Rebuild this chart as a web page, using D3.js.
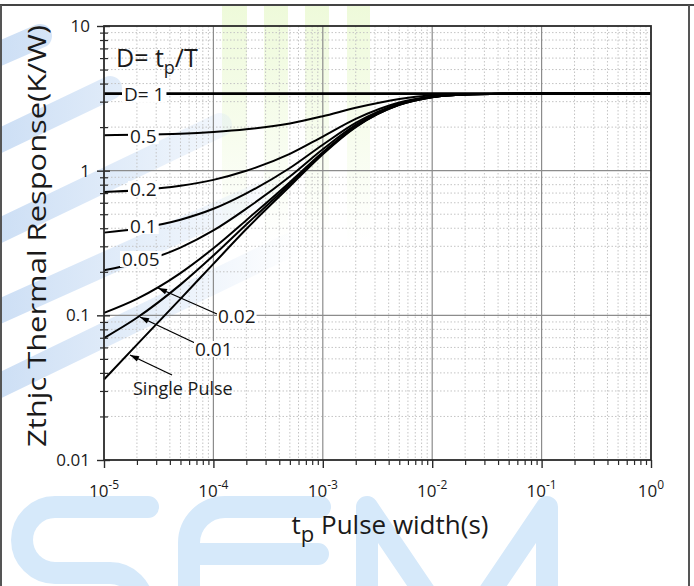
<!DOCTYPE html>
<html>
<head>
<meta charset="utf-8">
<script src="https://cdn.jsdelivr.net/npm/d3@7"></script>
<style>
  html, body { margin: 0; padding: 0; background: #fff; }
  svg { display: block; }
  text { font-family: "Open Sans", "Noto Sans", sans-serif; fill: #1a1a1a; }
</style>
</head>
<body>
<svg id="chart" width="694" height="586"></svg>
<script>
// ---------------- data ----------------
const pulseWidths = [1e-5, 2e-5, 5e-5, 1e-4, 2e-4, 5e-4, 1e-3, 2e-3, 5e-3, 1e-2, 2e-2, 5e-2, 1e-1, 1];
const dutyLabels = ["D= 1", "0.5", "0.2", "0.1", "0.05", "0.02", "0.01", "Single Pulse"];
const zD1     = [3.41, 3.41, 3.41, 3.41, 3.41, 3.41, 3.41, 3.41, 3.41, 3.41, 3.41, 3.41, 3.41, 3.41];
const zD05    = [1.76, 1.77, 1.80, 1.85, 1.93, 2.12, 2.38, 2.72, 3.13, 3.32, 3.385, 3.405, 3.41, 3.41];
const zD02    = [0.711, 0.732, 0.786, 0.864, 0.998, 1.306, 1.722, 2.282, 2.962, 3.258, 3.37, 3.402, 3.41, 3.41];
const zD01    = [0.373, 0.397, 0.458, 0.545, 0.697, 1.043, 1.511, 2.141, 2.906, 3.239, 3.365, 3.401, 3.41, 3.41];
const zD005   = [0.205, 0.230, 0.294, 0.386, 0.546, 0.911, 1.406, 2.071, 2.878, 3.230, 3.363, 3.40, 3.41, 3.41];
const zD002   = [0.104, 0.130, 0.196, 0.291, 0.455, 0.833, 1.342, 2.028, 2.861, 3.224, 3.361, 3.40, 3.41, 3.41];
const zD001   = [0.0697, 0.0962, 0.163, 0.259, 0.425, 0.806, 1.321, 2.014, 2.856, 3.222, 3.360, 3.40, 3.41, 3.41];
const zSingle = [0.036, 0.0627, 0.130, 0.227, 0.395, 0.78, 1.30, 2.00, 2.85, 3.22, 3.36, 3.40, 3.41, 3.41];
const xTickExps = ["-5", "-4", "-3", "-2", "-1", "0"];
const xTickValues = [1e-5, 1e-4, 1e-3, 1e-2, 1e-1, 1];
const yTickValues = [0.01, 0.1, 1, 10];
const yTickLabels = ["0.01", "0.1", "1", "10"];

// ---------------- setup ----------------
const svg = d3.select("#chart");
const L = 104, R = 651, T = 26, B = 460;
const x = d3.scaleLog().domain([1e-5, 1]).range([L, R]);
const y = d3.scaleLog().domain([0.01, 10]).range([B, T]);

// ---------------- watermark ----------------
const defs = svg.append("defs");
const gg = defs.append("linearGradient").attr("id", "gfade").attr("x1", 0).attr("y1", 0).attr("x2", 0).attr("y2", 1);
gg.append("stop").attr("offset", "0%").attr("stop-color", "rgb(238,250,218)").attr("stop-opacity", 1);
gg.append("stop").attr("offset", "100%").attr("stop-color", "rgb(238,250,218)").attr("stop-opacity", 0);
const bg = defs.append("linearGradient").attr("id", "bfade").attr("gradientUnits", "userSpaceOnUse")
  .attr("x1", 0).attr("y1", 0).attr("x2", 300).attr("y2", 0);
bg.append("stop").attr("offset", "0%").attr("stop-color", "rgb(205,223,245)").attr("stop-opacity", 1);
bg.append("stop").attr("offset", "100%").attr("stop-color", "rgb(205,223,245)").attr("stop-opacity", 0);

const wm = svg.append("g").attr("class", "watermark");
[[222, 247], [264, 288], [305, 329], [347, 370]].forEach(([a, b]) => {
  wm.append("rect").attr("x", a).attr("y", 5).attr("width", b - a).attr("height", 240).attr("fill", "url(#gfade)");
});
// diagonal light-blue bands at left
const bands = [[-20, 62, 40, 36], [-20, 150, 110, 88], [-20, 240, 220, 125], [-20, 320, 270, 190], [-20, 395, 290, 245]];
bands.forEach(([x1, y1, x2, y2]) => {
  wm.append("line").attr("x1", x1).attr("y1", y1).attr("x2", x2).attr("y2", y2)
    .attr("stroke", "url(#bfade)").attr("stroke-width", 24).attr("stroke-linecap", "round");
});
// SEMI letters at bottom
const letterColor = "rgb(214,233,250)";
const letters = [
  "M 148 507 H 55 A 33 33 0 0 0 55 573 H 110 A 33 33 0 0 1 110 639",
  "M 320 507 H 225 A 36 36 0 0 0 189 543 V 640 M 189 554 H 318",
  "M 367 640 V 507 L 457 640 L 547 507 V 640"
];
letters.forEach(d => {
  wm.append("path").attr("d", d).attr("fill", "none").attr("stroke", letterColor)
    .attr("stroke-width", 22).attr("stroke-linecap", "round").attr("stroke-linejoin", "round");
});

// page frame
svg.append("line").attr("x1", 0).attr("x2", 694).attr("y1", 5).attr("y2", 5).attr("stroke", "#444").attr("stroke-width", 2);
svg.append("line").attr("x1", 1).attr("x2", 1).attr("y1", 5).attr("y2", 586).attr("stroke", "#555").attr("stroke-width", 2);
svg.append("line").attr("x1", 689).attr("x2", 689).attr("y1", 5).attr("y2", 586).attr("stroke", "#555").attr("stroke-width", 2);

// ---------------- grid ----------------
const grid = svg.append("g");
const minorX = [], minorY = [];
for (let e = -5; e < 0; e++) for (let m = 2; m <= 9; m++) minorX.push(m * Math.pow(10, e));
for (let e = -2; e < 1; e++) for (let m = 2; m <= 9; m++) minorY.push(m * Math.pow(10, e));
grid.selectAll(".mx").data(minorX).enter().append("line")
  .attr("x1", d => x(d)).attr("x2", d => x(d)).attr("y1", T).attr("y2", B)
  .attr("stroke", "#c4c4c4").attr("stroke-width", 1).attr("stroke-dasharray", "1.5,2");
grid.selectAll(".my").data(minorY).enter().append("line")
  .attr("x1", L).attr("x2", R).attr("y1", d => y(d)).attr("y2", d => y(d))
  .attr("stroke", "#c4c4c4").attr("stroke-width", 1).attr("stroke-dasharray", "1.5,2");
grid.selectAll(".Mx").data(xTickValues.slice(1, -1)).enter().append("line")
  .attr("x1", d => x(d)).attr("x2", d => x(d)).attr("y1", T).attr("y2", B)
  .attr("stroke", "#8c8c8c").attr("stroke-width", 1.2);
grid.selectAll(".My").data(yTickValues.slice(1, -1)).enter().append("line")
  .attr("x1", L).attr("x2", R).attr("y1", d => y(d)).attr("y2", d => y(d))
  .attr("stroke", "#8c8c8c").attr("stroke-width", 1.2);

// ---------------- curves ----------------
const series = [zD1, zD05, zD02, zD01, zD005, zD002, zD001, zSingle];
const line = d3.line().x(d => x(d[0])).y(d => y(d[1])).curve(d3.curveMonotoneX);
const curves = svg.append("g");
series.forEach((s, i) => {
  curves.append("path").datum(pulseWidths.map((p, j) => [p, s[j]]))
    .attr("d", line).attr("fill", "none").attr("stroke", "#000")
    .attr("stroke-width", i === 0 ? 2.6 : 2).attr("stroke-linejoin", "round");
});

// ---------------- frame & axes ----------------
svg.append("rect").attr("x", L).attr("y", T).attr("width", R - L).attr("height", B - T)
  .attr("fill", "none").attr("stroke", "#2a2a2a").attr("stroke-width", 1.8);

const axB = svg.append("g").attr("transform", `translate(0,${B})`)
  .call(d3.axisBottom(x).tickValues(xTickValues).tickSize(8).tickFormat(""));
axB.select(".domain").remove();
axB.selectAll(".tick line").attr("stroke", "#2a2a2a").attr("stroke-width", 1.4);
svg.append("g").attr("transform", `translate(0,${B})`)
  .call(d3.axisBottom(x).tickValues(minorX).tickSize(5).tickFormat(""))
  .call(g => g.select(".domain").remove())
  .selectAll(".tick line").attr("stroke", "#2a2a2a").attr("stroke-width", 1.2);

const axL = svg.append("g").attr("transform", `translate(${L + 6},0)`)
  .call(d3.axisLeft(y).tickValues(yTickValues).tickSize(13).tickFormat(""));
axL.select(".domain").remove();
axL.selectAll(".tick line").attr("stroke", "#2a2a2a").attr("stroke-width", 1.4);
svg.append("g").attr("transform", `translate(${L + 4},0)`)
  .call(d3.axisLeft(y).tickValues(minorY).tickSize(8).tickFormat(""))
  .call(g => g.select(".domain").remove())
  .selectAll(".tick line").attr("stroke", "#2a2a2a").attr("stroke-width", 1.2);

// tick labels
svg.selectAll(".ylab").data(yTickValues).enter().append("text")
  .attr("x", 90).attr("y", d => y(d)).attr("dy", "0.35em").attr("text-anchor", "end")
  .attr("font-size", 17).text((d, i) => yTickLabels[i]);
const xl = svg.selectAll(".xlab").data(xTickValues).enter().append("text")
  .attr("x", d => x(d)).attr("y", 497).attr("text-anchor", "middle").attr("font-size", 17);
xl.append("tspan").text("10");
xl.append("tspan").attr("dy", -8).attr("font-size", 12).text((d, i) => xTickExps[i]);

// axis titles
const xt = svg.append("text").attr("x", 390).attr("y", 534).attr("text-anchor", "middle").attr("font-size", 26);
xt.append("tspan").text("t");
xt.append("tspan").attr("dy", 8).attr("font-size", 22).text("p");
xt.append("tspan").attr("dy", -8).text(" Pulse width(s)");

svg.append("text").attr("transform", "translate(46,236) rotate(-90)").attr("text-anchor", "middle")
  .attr("font-size", 26).attr("textLength", 422).attr("lengthAdjust", "spacingAndGlyphs")
  .text("Zthjc Thermal Response(K/W)");

// ---------------- annotations ----------------
const dt = svg.append("text").attr("x", 116).attr("y", 67).attr("font-size", 25);
dt.append("tspan").text("D= t");
dt.append("tspan").attr("dy", 7).attr("font-size", 18).text("p");
dt.append("tspan").attr("dy", -7).text("/T");

function boxedText(t, tx, ty, size, pad) {
  const r = svg.append("rect").attr("fill", "#fff");
  const tt = svg.append("text").attr("x", tx).attr("y", ty).attr("dy", "0.35em").attr("font-size", size).text(t);
  if (pad !== null) {
    const b = tt.node().getBBox();
    r.attr("x", b.x - pad).attr("y", ty - size * 0.42).attr("width", b.width + 2 * pad).attr("height", size * 0.84);
  } else r.remove();
}
const boxed = [
  [dutyLabels[0], 124, 94],
  [dutyLabels[1], 130, 136],
  [dutyLabels[2], 130, 189],
  [dutyLabels[3], 130, 226],
  [dutyLabels[4], 122, 259]
];
boxed.forEach(([t, bx, by]) => boxedText(t, bx, by, 19, 2));

// arrows
const arrows = [
  [dutyLabels[5], [217, 314], [158, 288], [218, 316]],
  [dutyLabels[6], [195, 343], [140, 317], [195, 349]],
  [dutyLabels[7], [172, 375], [130, 355], [133, 389]]
];
arrows.forEach(([t, from, to, lp]) => {
  svg.append("line").attr("x1", from[0]).attr("y1", from[1]).attr("x2", to[0]).attr("y2", to[1])
    .attr("stroke", "#000").attr("stroke-width", 1.3);
  const ang = Math.atan2(to[1] - from[1], to[0] - from[0]);
  const len = 9, wid = 3;
  const bx = to[0] - len * Math.cos(ang), by = to[1] - len * Math.sin(ang);
  const px = -Math.sin(ang) * wid, py = Math.cos(ang) * wid;
  svg.append("path").attr("d", `M${to[0]},${to[1]} L${bx + px},${by + py} L${bx - px},${by - py} Z`).attr("fill", "#000");
  const isSingle = t === "Single Pulse";
  boxedText(t, lp[0], lp[1], isSingle ? 18 : 19, isSingle ? null : 1);
});
</script>
</body>
</html>
